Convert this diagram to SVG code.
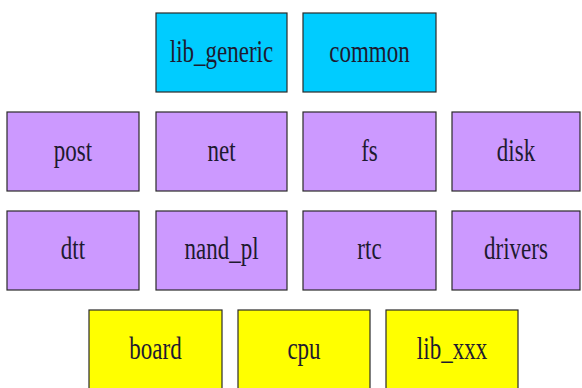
<svg xmlns="http://www.w3.org/2000/svg" width="582" height="388" viewBox="0 0 582 388">
  <style>
    .box { stroke: #2a2a2a; stroke-width: 1.2; }
    .lib { fill: #00ccff; }
    .mod { fill: #cc99ff; }
    .arch { fill: #ffff00; }
    .lbl { font-family: "Liberation Serif", "Times New Roman", serif; font-size: 23px; fill: #1e1a30; text-anchor: middle; }
  </style>
  <rect width="582" height="388" fill="#ffffff"/>

  <!-- top layer: shared libraries -->
  <g id="lib_generic">
    <rect class="box lib" x="156" y="13" width="131" height="79"/>
    <text class="lbl" transform="translate(221.5,62) scale(1,1.35)">lib_generic</text>
  </g>
  <g id="common">
    <rect class="box lib" x="303" y="13" width="133" height="79"/>
    <text class="lbl" transform="translate(369.5,62) scale(1,1.35)">common</text>
  </g>

  <!-- middle layers: subsystems -->
  <g id="post">
    <rect class="box mod" x="7" y="112" width="132" height="79"/>
    <text class="lbl" transform="translate(73,161) scale(1,1.35)">post</text>
  </g>
  <g id="net">
    <rect class="box mod" x="156" y="112" width="131" height="79"/>
    <text class="lbl" transform="translate(221.5,161) scale(1,1.35)">net</text>
  </g>
  <g id="fs">
    <rect class="box mod" x="303" y="112" width="133" height="79"/>
    <text class="lbl" transform="translate(369.5,161) scale(1,1.35)">fs</text>
  </g>
  <g id="disk">
    <rect class="box mod" x="452" y="112" width="128" height="79"/>
    <text class="lbl" transform="translate(516,161) scale(1,1.35)">disk</text>
  </g>

  <g id="dtt">
    <rect class="box mod" x="7" y="211" width="132" height="79"/>
    <text class="lbl" transform="translate(73,259) scale(1,1.35)">dtt</text>
  </g>
  <g id="nand_pl">
    <rect class="box mod" x="156" y="211" width="131" height="79"/>
    <text class="lbl" transform="translate(221.5,259) scale(1,1.35)">nand_pl</text>
  </g>
  <g id="rtc">
    <rect class="box mod" x="303" y="211" width="133" height="79"/>
    <text class="lbl" transform="translate(369.5,259) scale(1,1.35)">rtc</text>
  </g>
  <g id="drivers">
    <rect class="box mod" x="452" y="211" width="128" height="79"/>
    <text class="lbl" transform="translate(516,259) scale(1,1.35)">drivers</text>
  </g>

  <!-- bottom layer: architecture specific -->
  <g id="board">
    <rect class="box arch" x="89" y="310" width="133" height="90"/>
    <text class="lbl" transform="translate(155.5,359) scale(1,1.35)">board</text>
  </g>
  <g id="cpu">
    <rect class="box arch" x="238" y="310" width="132" height="90"/>
    <text class="lbl" transform="translate(304,359) scale(1,1.35)">cpu</text>
  </g>
  <g id="lib_xxx">
    <rect class="box arch" x="386" y="310" width="132" height="90"/>
    <text class="lbl" transform="translate(452,359) scale(1,1.35)">lib_xxx</text>
  </g>

  <g id="connectors"/>
</svg>
